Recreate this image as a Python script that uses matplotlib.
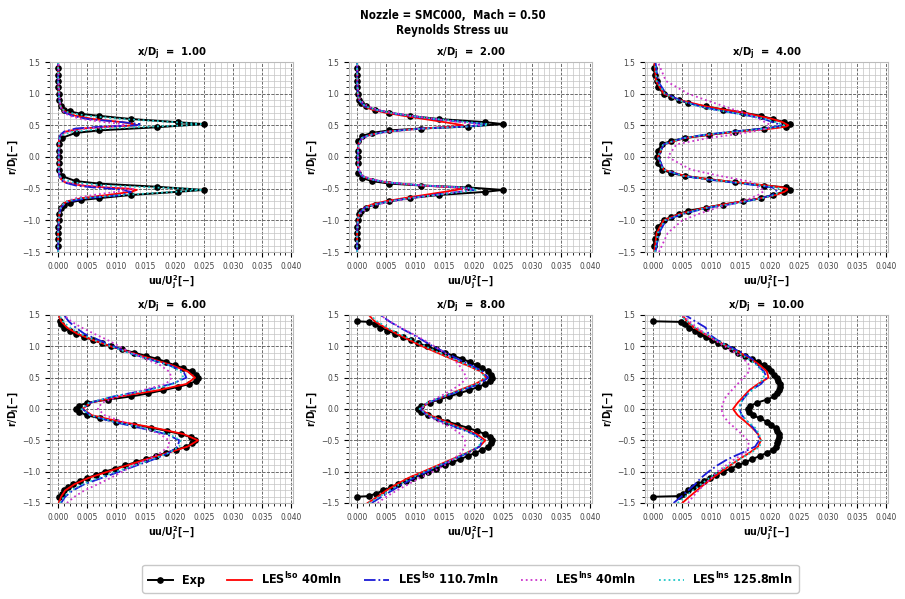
import matplotlib
matplotlib.use("Agg")
import matplotlib.pyplot as plt
from matplotlib.ticker import MultipleLocator

plt.rcParams["font.family"] = "DejaVu Sans"
plt.rcParams["font.stretch"] = "condensed"
plt.rcParams["font.weight"] = "bold"
plt.rcParams["mathtext.default"] = "bf"

# ---------------- data ----------------
stations = [1.0, 2.0, 4.0, 6.0, 8.0, 10.0]

# radial grid used for the LES profiles near the nozzle (x/Dj = 1, 2, 4)
les_r_near = [-1.5, -1.2, -1.0, -0.9, -0.8, -0.75, -0.7, -0.65, -0.6, -0.55,
              -0.52, -0.5, -0.48, -0.45, -0.4, -0.35, -0.3, -0.2, 0.0, 0.2,
              0.3, 0.35, 0.4, 0.45, 0.48, 0.5, 0.52, 0.55, 0.6, 0.65,
              0.7, 0.75, 0.8, 0.9, 1.0, 1.2, 1.5]
# radial grid for the LES profiles further downstream (x/Dj = 6, 8, 10)
les_r_far = [-1.5, -1.4, -1.3, -1.2, -1.1, -1.0, -0.9, -0.8, -0.7, -0.6,
             -0.5, -0.4, -0.3, -0.2, -0.1, 0.0, 0.1, 0.2, 0.3, 0.4,
             0.5, 0.6, 0.7, 0.8, 0.9, 1.0, 1.1, 1.2, 1.3, 1.4, 1.5]

# x/Dj = 1
exp1_r = [-1.4, -1.3, -1.2, -1.1, -1.0, -0.9, -0.8, -0.75, -0.72, -0.68,
          -0.65, -0.6, -0.55, -0.52, -0.47, -0.42, -0.38, -0.3, -0.2, -0.1,
          0.0, 0.1, 0.2, 0.3, 0.38, 0.42, 0.47, 0.52, 0.55, 0.6,
          0.65, 0.68, 0.72, 0.75, 0.8, 0.9, 1.0, 1.1, 1.2, 1.3, 1.4]
exp1 = [0, 0, 0, 0, 0.0001, 0.0002, 0.0005, 0.001, 0.002, 0.004,
        0.007, 0.0125, 0.0205, 0.025, 0.017, 0.007, 0.003, 0.0006, 0.0002, 0.0001,
        0.0001, 0.0001, 0.0002, 0.0006, 0.003, 0.007, 0.017, 0.025, 0.0205, 0.0125,
        0.007, 0.004, 0.002, 0.001, 0.0005, 0.0002, 0.0001, 0, 0, 0, 0]
iso40_1 = [0, 0, 0.0001, 0.0002, 0.0004, 0.0008, 0.0015, 0.004, 0.0085, 0.0125,
           0.0135, 0.012, 0.008, 0.004, 0.0012, 0.0005, 0.0002, 0.0001, 0.0001, 0.0001,
           0.0002, 0.0005, 0.0012, 0.004, 0.009, 0.0135, 0.013, 0.011, 0.006, 0.003,
           0.0015, 0.0008, 0.0004, 0.0002, 0.0001, 0, 0]
iso110_1 = [0, 0, 0.0001, 0.0002, 0.0005, 0.001, 0.002, 0.005, 0.011, 0.0125,
            0.011, 0.009, 0.006, 0.003, 0.001, 0.0004, 0.0002, 0.0001, 0.0001, 0.0001,
            0.0002, 0.0004, 0.001, 0.003, 0.0075, 0.0135, 0.014, 0.011, 0.005, 0.0025,
            0.0012, 0.0007, 0.0004, 0.0002, 0.0001, 0, 0]
ins40_1 = [0, 0, 0.0002, 0.0003, 0.0005, 0.0009, 0.0015, 0.003, 0.006, 0.01,
           0.0125, 0.013, 0.01, 0.005, 0.0015, 0.0006, 0.0003, 0.0002, 0.0002, 0.0002,
           0.0003, 0.0006, 0.0015, 0.005, 0.009, 0.0115, 0.011, 0.008, 0.004, 0.002,
           0.001, 0.0006, 0.0004, 0.0003, 0.0002, 0.0001, 0.0001]
ins125_1 = [0, 0, 0.0001, 0.0002, 0.0004, 0.0008, 0.0015, 0.004, 0.011, 0.02,
            0.0245, 0.022, 0.016, 0.008, 0.0025, 0.0008, 0.0003, 0.0001, 0.0001, 0.0001,
            0.0003, 0.0008, 0.0025, 0.008, 0.016, 0.022, 0.0245, 0.02, 0.011, 0.005,
            0.0018, 0.0008, 0.0004, 0.0002, 0.0001, 0, 0]

# x/Dj = 2
exp2_r = [-1.4, -1.3, -1.2, -1.1, -1.0, -0.9, -0.85, -0.8, -0.75, -0.7,
          -0.65, -0.6, -0.55, -0.52, -0.48, -0.45, -0.42, -0.38, -0.33, -0.25,
          -0.1, 0.0, 0.1, 0.25, 0.33, 0.38, 0.42, 0.45, 0.48, 0.52,
          0.55, 0.6, 0.65, 0.7, 0.75, 0.8, 0.85, 0.9, 1.0, 1.1, 1.2, 1.3, 1.4]
exp2 = [0, 0, 0, 0, 0.0001, 0.0003, 0.0006, 0.0015, 0.003, 0.0055,
        0.009, 0.014, 0.022, 0.025, 0.019, 0.011, 0.0055, 0.0025, 0.0008, 0.0002,
        0.0001, 0.0001, 0.0001, 0.0002, 0.0008, 0.0025, 0.0055, 0.011, 0.019, 0.025,
        0.022, 0.014, 0.009, 0.0055, 0.003, 0.0015, 0.0006, 0.0003, 0.0001, 0, 0, 0, 0]
iso40_2 = [0, 0, 0.0001, 0.0003, 0.0012, 0.0025, 0.0048, 0.008, 0.0115, 0.015,
           0.017, 0.018, 0.0165, 0.011, 0.005, 0.0022, 0.0008, 0.0002, 0.0001, 0.0002,
           0.0008, 0.0022, 0.005, 0.011, 0.0165, 0.0182, 0.017, 0.015, 0.0115, 0.008,
           0.0048, 0.0025, 0.0012, 0.0003, 0.0001, 0, 0]
iso110_2 = [0, 0, 0.0001, 0.0003, 0.0013, 0.003, 0.0055, 0.009, 0.013, 0.0175,
            0.02, 0.0195, 0.0175, 0.011, 0.005, 0.0022, 0.0008, 0.0002, 0.0001, 0.0002,
            0.0008, 0.0022, 0.005, 0.011, 0.0185, 0.0215, 0.022, 0.0185, 0.013, 0.009,
            0.0055, 0.003, 0.0013, 0.0003, 0.0001, 0, 0]
ins40_2 = [0, 0, 0.0002, 0.0005, 0.0018, 0.0035, 0.006, 0.0095, 0.0135, 0.0175,
           0.0195, 0.0195, 0.0175, 0.0115, 0.0055, 0.0025, 0.001, 0.0003, 0.0002, 0.0003,
           0.001, 0.0025, 0.0055, 0.0115, 0.0185, 0.021, 0.0205, 0.0175, 0.0135, 0.0095,
           0.006, 0.0035, 0.0018, 0.0005, 0.0002, 0.0001, 0]
ins125_2 = [0, 0, 0.0001, 0.0003, 0.0014, 0.003, 0.0055, 0.009, 0.0135, 0.018,
            0.0205, 0.02, 0.018, 0.0115, 0.005, 0.0022, 0.0008, 0.0002, 0.0001, 0.0002,
            0.0008, 0.0022, 0.005, 0.0115, 0.019, 0.022, 0.0225, 0.019, 0.0135, 0.009,
            0.0055, 0.003, 0.0014, 0.0003, 0.0001, 0, 0]

# x/Dj = 4
exp3_r = [-1.4, -1.3, -1.2, -1.1, -1.0, -0.95, -0.9, -0.85, -0.8, -0.75,
          -0.7, -0.65, -0.6, -0.55, -0.52, -0.48, -0.45, -0.4, -0.35, -0.3,
          -0.25, -0.2, -0.1, 0.0, 0.1, 0.2, 0.25, 0.3, 0.35, 0.4,
          0.45, 0.48, 0.52, 0.55, 0.6, 0.65, 0.7, 0.75, 0.8, 0.85,
          0.9, 0.95, 1.0, 1.1, 1.2, 1.3, 1.4]
exp3 = [0.0001, 0.0003, 0.0006, 0.0009, 0.0018, 0.003, 0.0045, 0.006, 0.009, 0.012,
        0.0155, 0.0185, 0.0205, 0.0225, 0.0235, 0.0228, 0.019, 0.014, 0.0095, 0.0055,
        0.003, 0.0015, 0.0008, 0.0007, 0.0008, 0.0015, 0.003, 0.0055, 0.0095, 0.014,
        0.019, 0.0228, 0.0235, 0.0225, 0.0205, 0.0185, 0.0155, 0.012, 0.009, 0.006,
        0.0045, 0.003, 0.0018, 0.0009, 0.0006, 0.0003, 0.0001]
iso40_3 = [0.0002, 0.0006, 0.0018, 0.0045, 0.009, 0.012, 0.0155, 0.0185, 0.021, 0.0225,
           0.023, 0.023, 0.0222, 0.0195, 0.0145, 0.0095, 0.0055, 0.0018, 0.0008, 0.0018,
           0.0055, 0.0095, 0.0145, 0.0205, 0.0228, 0.0232, 0.0228, 0.0222, 0.0205, 0.018,
           0.0155, 0.012, 0.009, 0.0045, 0.0018, 0.0005, 0.0002]
iso110_3 = [0.0004, 0.001, 0.0022, 0.005, 0.0095, 0.013, 0.016, 0.0185, 0.0205, 0.021,
            0.0212, 0.021, 0.0203, 0.018, 0.0135, 0.0088, 0.0052, 0.0018, 0.0009, 0.0018,
            0.0052, 0.0088, 0.0135, 0.019, 0.0212, 0.022, 0.0215, 0.0205, 0.019, 0.0165,
            0.0135, 0.0105, 0.008, 0.0045, 0.0022, 0.0008, 0.0004]
ins40_3 = [0.001, 0.0025, 0.005, 0.0078, 0.011, 0.0132, 0.0152, 0.0168, 0.018, 0.0188,
           0.019, 0.0185, 0.018, 0.0178, 0.0172, 0.0145, 0.0115, 0.0065, 0.0025, 0.004,
           0.0095, 0.0135, 0.017, 0.0195, 0.02, 0.02, 0.0198, 0.0192, 0.0182, 0.017,
           0.0155, 0.0138, 0.0122, 0.009, 0.006, 0.0022, 0.0008]
ins125_3 = [0.0003, 0.0008, 0.002, 0.0048, 0.0092, 0.0128, 0.016, 0.0188, 0.0208, 0.0218,
            0.022, 0.0218, 0.021, 0.0188, 0.014, 0.009, 0.0053, 0.0017, 0.0008, 0.0017,
            0.0053, 0.009, 0.014, 0.0195, 0.0218, 0.0225, 0.022, 0.021, 0.0192, 0.0166,
            0.0135, 0.0104, 0.0078, 0.0042, 0.002, 0.0006, 0.0003]

# x/Dj = 6
exp4_r = [-1.4, -1.35, -1.3, -1.25, -1.2, -1.15, -1.1, -1.05, -1.0, -0.95,
          -0.9, -0.85, -0.8, -0.75, -0.7, -0.65, -0.6, -0.55, -0.5, -0.45,
          -0.4, -0.35, -0.3, -0.25, -0.2, -0.15, -0.1, -0.05, 0.0, 0.05,
          0.1, 0.15, 0.2, 0.25, 0.3, 0.35, 0.4, 0.45, 0.5, 0.55,
          0.6, 0.65, 0.7, 0.75, 0.8, 0.85, 0.9, 0.95, 1.0, 1.05,
          1.1, 1.15, 1.2, 1.25, 1.3, 1.35, 1.4]
exp4 = [0.0002, 0.0006, 0.001, 0.0017, 0.0025, 0.0037, 0.005, 0.0065, 0.008, 0.0098,
        0.0115, 0.0133, 0.015, 0.0168, 0.0185, 0.0203, 0.022, 0.023, 0.0235, 0.0228,
        0.021, 0.0187, 0.016, 0.013, 0.01, 0.0072, 0.005, 0.0036, 0.003, 0.0035,
        0.005, 0.0085, 0.0125, 0.0155, 0.018, 0.0205, 0.0225, 0.0237, 0.024, 0.0237,
        0.023, 0.0215, 0.02, 0.0185, 0.017, 0.015, 0.013, 0.011, 0.009, 0.0075,
        0.006, 0.0045, 0.003, 0.002, 0.001, 0.0005, 0.0003]
iso40_4 = [0.0001, 0.0005, 0.0012, 0.0028, 0.0052, 0.0085, 0.0118, 0.0152, 0.0188, 0.0222,
           0.024, 0.0215, 0.0165, 0.0105, 0.0058, 0.0042, 0.0055, 0.0105, 0.0172, 0.022,
           0.0235, 0.0222, 0.0195, 0.016, 0.0125, 0.009, 0.006, 0.0033, 0.0015, 0.0005, 0.0001]
iso110_4 = [0.0005, 0.0012, 0.0025, 0.0045, 0.0075, 0.0105, 0.0135, 0.0165, 0.019, 0.0205,
            0.0208, 0.0185, 0.014, 0.0092, 0.0055, 0.0042, 0.0055, 0.0095, 0.015, 0.0195,
            0.022, 0.0215, 0.019, 0.0155, 0.012, 0.0095, 0.007, 0.0045, 0.003, 0.0018, 0.001]
ins40_4 = [0.0015, 0.0028, 0.0045, 0.0068, 0.009, 0.011, 0.013, 0.0155, 0.0175, 0.019,
           0.019, 0.0175, 0.0145, 0.011, 0.008, 0.0068, 0.0075, 0.0105, 0.0145, 0.0185,
           0.0195, 0.019, 0.0175, 0.015, 0.0125, 0.0105, 0.0085, 0.0062, 0.004, 0.0022, 0.001]
ins125_4 = [0.0003, 0.001, 0.0022, 0.0042, 0.007, 0.01, 0.013, 0.0162, 0.019, 0.0208,
            0.021, 0.019, 0.0145, 0.0095, 0.0055, 0.004, 0.0053, 0.0095, 0.0155, 0.0198,
            0.0215, 0.021, 0.019, 0.0155, 0.012, 0.009, 0.0062, 0.0038, 0.002, 0.0008, 0.0002]

# x/Dj = 8 (outermost probes at r = +-1.4 read zero)
exp5_r = [-1.4, -1.39, -1.35, -1.3, -1.25, -1.2, -1.15, -1.1, -1.05, -1.0,
          -0.95, -0.9, -0.85, -0.8, -0.75, -0.7, -0.65, -0.6, -0.55, -0.5,
          -0.45, -0.4, -0.35, -0.3, -0.25, -0.2, -0.15, -0.1, -0.05, 0.0,
          0.05, 0.1, 0.15, 0.2, 0.25, 0.3, 0.35, 0.4, 0.45, 0.5,
          0.55, 0.6, 0.65, 0.7, 0.75, 0.8, 0.85, 0.9, 0.95, 1.0,
          1.05, 1.1, 1.15, 1.2, 1.25, 1.3, 1.35, 1.39, 1.4]
exp5 = [0.0, 0.002, 0.0032, 0.0045, 0.0058, 0.007, 0.0083, 0.0095, 0.011, 0.0122,
        0.0135, 0.015, 0.0163, 0.0177, 0.019, 0.0203, 0.0215, 0.0225, 0.023, 0.0232,
        0.0228, 0.022, 0.0205, 0.019, 0.0172, 0.0155, 0.0138, 0.0122, 0.011, 0.0105,
        0.011, 0.0125, 0.014, 0.0158, 0.0175, 0.0192, 0.0208, 0.022, 0.0228, 0.0232,
        0.023, 0.0225, 0.0215, 0.0205, 0.0193, 0.018, 0.0165, 0.015, 0.0135, 0.012,
        0.0105, 0.0092, 0.0078, 0.0065, 0.0052, 0.004, 0.003, 0.002, 0.0]
iso40_5 = [0.0018, 0.0035, 0.005, 0.0068, 0.0088, 0.0113, 0.0138, 0.0163, 0.0188, 0.021,
           0.022, 0.0205, 0.0178, 0.0152, 0.0125, 0.0108, 0.0122, 0.015, 0.0175, 0.0203,
           0.0222, 0.0212, 0.0188, 0.0162, 0.0137, 0.0112, 0.009, 0.0068, 0.0048, 0.003, 0.002]
iso110_5 = [0.0025, 0.0042, 0.006, 0.0078, 0.0098, 0.012, 0.0143, 0.0167, 0.019, 0.021,
            0.0215, 0.02, 0.0172, 0.0145, 0.012, 0.0108, 0.0122, 0.015, 0.018, 0.021,
            0.0225, 0.0215, 0.0195, 0.0172, 0.0152, 0.013, 0.0112, 0.0093, 0.0073, 0.0055, 0.004]
ins40_5 = [0.0035, 0.005, 0.0068, 0.0088, 0.0108, 0.013, 0.015, 0.0165, 0.0178, 0.0185,
           0.0185, 0.0178, 0.0162, 0.014, 0.012, 0.011, 0.012, 0.0142, 0.0162, 0.0178,
           0.0188, 0.0182, 0.0175, 0.0165, 0.015, 0.0133, 0.0115, 0.0095, 0.0075, 0.0055, 0.004]
ins125_5 = [0.002, 0.0038, 0.0055, 0.0073, 0.0093, 0.0116, 0.014, 0.0165, 0.0188, 0.0208,
            0.0215, 0.02, 0.0175, 0.0148, 0.0122, 0.0107, 0.012, 0.0148, 0.0177, 0.0205,
            0.022, 0.0212, 0.019, 0.0165, 0.014, 0.0117, 0.0095, 0.0072, 0.0052, 0.0034, 0.0022]

# x/Dj = 10
exp6_r = exp5_r
exp6 = [0.0, 0.0045, 0.0052, 0.006, 0.0068, 0.0077, 0.0087, 0.0097, 0.0108, 0.012,
        0.0133, 0.0146, 0.0158, 0.017, 0.0183, 0.0195, 0.0205, 0.021, 0.0213, 0.0215,
        0.0216, 0.0216, 0.0213, 0.021, 0.0203, 0.0195, 0.0183, 0.0172, 0.0165, 0.0163,
        0.0167, 0.0178, 0.0195, 0.0208, 0.0213, 0.0216, 0.0217, 0.0217, 0.0215, 0.0212,
        0.0208, 0.0203, 0.0197, 0.019, 0.018, 0.017, 0.0158, 0.0146, 0.0135, 0.0123,
        0.0112, 0.0101, 0.009, 0.008, 0.0071, 0.0062, 0.0054, 0.0047, 0.0]
iso40_6 = [0.005, 0.0062, 0.0075, 0.0088, 0.0102, 0.0117, 0.0132, 0.0148, 0.0165, 0.018,
           0.0185, 0.018, 0.017, 0.0158, 0.0145, 0.0137, 0.0145, 0.0155, 0.0165, 0.018,
           0.0198, 0.0195, 0.0183, 0.0168, 0.0148, 0.0127, 0.0107, 0.0088, 0.007, 0.0058, 0.005]
iso110_6 = [0.0035, 0.0048, 0.006, 0.0072, 0.0082, 0.0095, 0.011, 0.0128, 0.0152, 0.0175,
            0.0182, 0.018, 0.0172, 0.0162, 0.0152, 0.0148, 0.015, 0.0158, 0.0168, 0.0185,
            0.0195, 0.019, 0.0178, 0.017, 0.0152, 0.013, 0.011, 0.0095, 0.009, 0.0072, 0.0055]
ins40_6 = [0.006, 0.0068, 0.0078, 0.0088, 0.01, 0.011, 0.0125, 0.014, 0.0158, 0.0165,
           0.0162, 0.0152, 0.014, 0.0128, 0.012, 0.0117, 0.012, 0.0125, 0.0135, 0.0145,
           0.0155, 0.0165, 0.0165, 0.0155, 0.014, 0.0123, 0.0105, 0.009, 0.0075, 0.0062, 0.005]
ins125_6 = [0.0042, 0.0055, 0.0068, 0.0082, 0.0097, 0.0112, 0.013, 0.0148, 0.0168, 0.0183,
            0.0185, 0.0182, 0.0175, 0.0162, 0.0152, 0.0147, 0.015, 0.0158, 0.017, 0.0182,
            0.019, 0.0188, 0.0178, 0.0163, 0.0145, 0.0128, 0.0108, 0.009, 0.0072, 0.0058, 0.0045]

panels = [
    (exp1_r, exp1, les_r_near, iso40_1, iso110_1, ins40_1, ins125_1),
    (exp2_r, exp2, les_r_near, iso40_2, iso110_2, ins40_2, ins125_2),
    (exp3_r, exp3, les_r_near, iso40_3, iso110_3, ins40_3, ins125_3),
    (exp4_r, exp4, les_r_far, iso40_4, iso110_4, ins40_4, ins125_4),
    (exp5_r, exp5, les_r_far, iso40_5, iso110_5, ins40_5, ins125_5),
    (exp6_r, exp6, les_r_far, iso40_6, iso110_6, ins40_6, ins125_6),
]

# ---------------- figure ----------------
fig = plt.figure(figsize=(9.05, 5.99), dpi=100)

lefts = [50 / 905, 349 / 905, 645 / 905]
width = 243 / 905
rows = [(1 - 252 / 599, 190 / 599), (1 - 503 / 599, 188 / 599)]

for i, (er, ev, lr, a, b, c, d) in enumerate(panels):
    bottom, height = rows[i // 3]
    ax = fig.add_axes([lefts[i % 3], bottom, width, height])

    ax.plot(ev, er, color="black", marker="o", markersize=3.8, lw=1.4, label="Exp")
    ax.plot(a, lr, color="red", ls="-", lw=1.3, label=r"LES$^{Iso}$ 40mln")
    ax.plot(b, lr, color="#1a1ad6", ls="-.", lw=1.3, label=r"LES$^{Iso}$ 110.7mln")
    ax.plot(c, lr, color="#cc33cc", ls=":", lw=1.3, label=r"LES$^{Ins}$ 40mln")
    ax.plot(d, lr, color="#20c8c8", ls=":", lw=1.3, label=r"LES$^{Ins}$ 125.8mln")

    ax.set_xlim(-0.0014, 0.0403)
    ax.set_ylim(-1.5, 1.5)
    ax.xaxis.set_major_locator(MultipleLocator(0.005))
    ax.xaxis.set_minor_locator(MultipleLocator(0.001))
    ax.yaxis.set_major_locator(MultipleLocator(0.5))
    ax.yaxis.set_minor_locator(MultipleLocator(0.1))
    ax.set_xticks([0.0, 0.005, 0.01, 0.015, 0.02, 0.025, 0.03, 0.035, 0.04])
    ax.set_xticklabels(["0.000", "0.005", "0.010", "0.015", "0.020",
                        "0.025", "0.030", "0.035", "0.040"])
    ax.tick_params(axis="both", which="major", labelsize=6, length=3.5,
                   labelcolor="#444444")
    ax.tick_params(axis="both", which="minor", length=2)
    for lab in ax.get_xticklabels() + ax.get_yticklabels():
        lab.set_fontweight("normal")
    ax.grid(True, which="major", ls="--", color="#555555", lw=0.6)
    ax.grid(True, which="minor", ls="-", color="#c4c4c4", lw=0.5)
    ax.set_axisbelow(True)
    for sp in ax.spines.values():
        sp.set_color("#bbbbbb")

    ax.set_title(r"x/D$_j$  =  %.2f" % stations[i], fontsize=8,
                 fontweight="bold", pad=3)
    ax.set_xlabel(r"uu/U$_j^2$[$-$]", fontsize=7.5, fontweight="bold", labelpad=2)
    ax.set_ylabel(r"r/D$_j$[$-$]", fontsize=7.5, fontweight="bold", labelpad=1)

    if i == 0:
        handles, labels = ax.get_legend_handles_labels()

fig.suptitle("Nozzle = SMC000,  Mach = 0.50\nReynolds Stress uu",
             fontsize=8.3, fontweight="bold", y=0.985, linespacing=1.2)

fig.legend(handles, labels, loc="lower center", bbox_to_anchor=(0.52, 0.0),
           ncol=5, frameon=True, handlelength=2.0, handletextpad=0.7,
           columnspacing=1.8, borderpad=0.45, edgecolor="#bbbbbb",
           prop={"weight": "bold", "size": 9, "stretch": "condensed"})

fig.savefig("out.png", dpi=100)
